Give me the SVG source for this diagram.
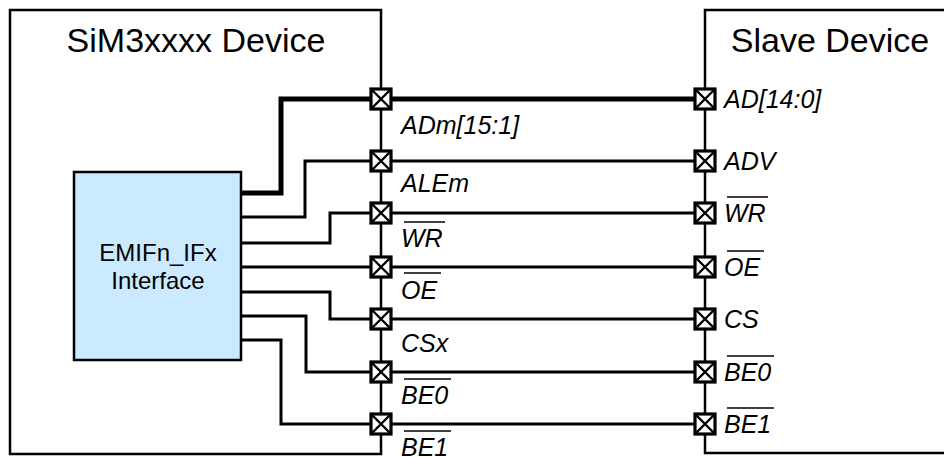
<svg xmlns="http://www.w3.org/2000/svg" width="944" height="457" viewBox="0 0 944 457">
<style>
.box{fill:#fff;stroke:#000;stroke-width:2.5}
.iface{fill:#cceaff;stroke:#000;stroke-width:2.5}
.title{font-family:"Liberation Sans",Arial,sans-serif;font-size:34px;fill:#000}
.itxt{font-family:"Liberation Sans",Arial,sans-serif;font-size:24px;fill:#000}
.lbl{font-family:"Liberation Sans",Arial,sans-serif;font-size:25px;font-style:italic;fill:#000}
.w{fill:none;stroke:#000;stroke-width:3}
.bus{fill:none;stroke:#000;stroke-width:5}
.ov{stroke:#000;stroke-width:1.6}
.pinr{fill:#fff;stroke:#000;stroke-width:3.2}
.pinx{stroke:#000;stroke-width:2.4}
</style>
<defs>
<g id="pin">
<rect class="pinr" x="-10" y="-10" width="20" height="20"/>
<path class="pinx" d="M-10,-10 L10,10 M10,-10 L-10,10"/>
</g>
</defs>
<g id="sim3-device">
<rect class="box" x="10" y="10" width="371" height="444"/>
<text class="title" x="196" y="52" text-anchor="middle">SiM3xxxx Device</text>
</g>
<g id="slave-device">
<rect class="box" x="705" y="10" width="260" height="443"/>
<text class="title" x="830" y="52" text-anchor="middle">Slave Device</text>
</g>
<g id="emif-interface">
<rect class="iface" x="74" y="172" width="167" height="188"/>
<text class="itxt" x="158" y="261" text-anchor="middle">EMIFn_IFx</text>
<text class="itxt" x="158" y="289" text-anchor="middle">Interface</text>
</g>
<g id="connectors">
<path class="bus" d="M241,193 H281 V99 H705"/>
<path class="w" d="M241,217 H305 V161 H705"/>
<path class="w" d="M241,243 H330 V213 H705"/>
<path class="w" d="M241,267 H705"/>
<path class="w" d="M241,292 H330 V319 H705"/>
<path class="w" d="M241,316 H306 V372 H705"/>
<path class="w" d="M241,340 H281 V424 H705"/>
</g>
<g id="pins-left">
<use href="#pin" x="381" y="99"/>
<use href="#pin" x="381" y="161"/>
<use href="#pin" x="381" y="213"/>
<use href="#pin" x="381" y="267"/>
<use href="#pin" x="381" y="319"/>
<use href="#pin" x="381" y="372"/>
<use href="#pin" x="381" y="424"/>
</g>
<g id="pins-right">
<use href="#pin" x="705" y="99"/>
<use href="#pin" x="705" y="161"/>
<use href="#pin" x="705" y="213"/>
<use href="#pin" x="705" y="267"/>
<use href="#pin" x="705" y="319"/>
<use href="#pin" x="705" y="372"/>
<use href="#pin" x="705" y="424"/>
</g>
<g id="labels-left">
<text class="lbl" x="401" y="134">ADm[15:1]</text>
<text class="lbl" x="401" y="192">ALEm</text>
<text class="lbl" x="401" y="247">WR</text>
<line class="ov" x1="404" y1="222" x2="445" y2="222"/>
<text class="lbl" x="401" y="299">OE</text>
<line class="ov" x1="404" y1="273" x2="441" y2="273"/>
<text class="lbl" x="401" y="352">CSx</text>
<text class="lbl" x="401" y="404">BE0</text>
<line class="ov" x1="404" y1="379" x2="451" y2="379"/>
<text class="lbl" x="401" y="456">BE1</text>
<line class="ov" x1="404" y1="431" x2="451" y2="431"/>
</g>
<g id="labels-right">
<text class="lbl" x="724" y="108">AD[14:0]</text>
<text class="lbl" x="724" y="170">ADV</text>
<text class="lbl" x="724" y="222">WR</text>
<line class="ov" x1="727" y1="197" x2="768" y2="197"/>
<text class="lbl" x="724" y="276">OE</text>
<line class="ov" x1="727" y1="251" x2="764" y2="251"/>
<text class="lbl" x="724" y="328">CS</text>
<text class="lbl" x="724" y="381">BE0</text>
<line class="ov" x1="727" y1="356" x2="774" y2="356"/>
<text class="lbl" x="724" y="433">BE1</text>
<line class="ov" x1="727" y1="408" x2="774" y2="408"/>
</g>
</svg>
